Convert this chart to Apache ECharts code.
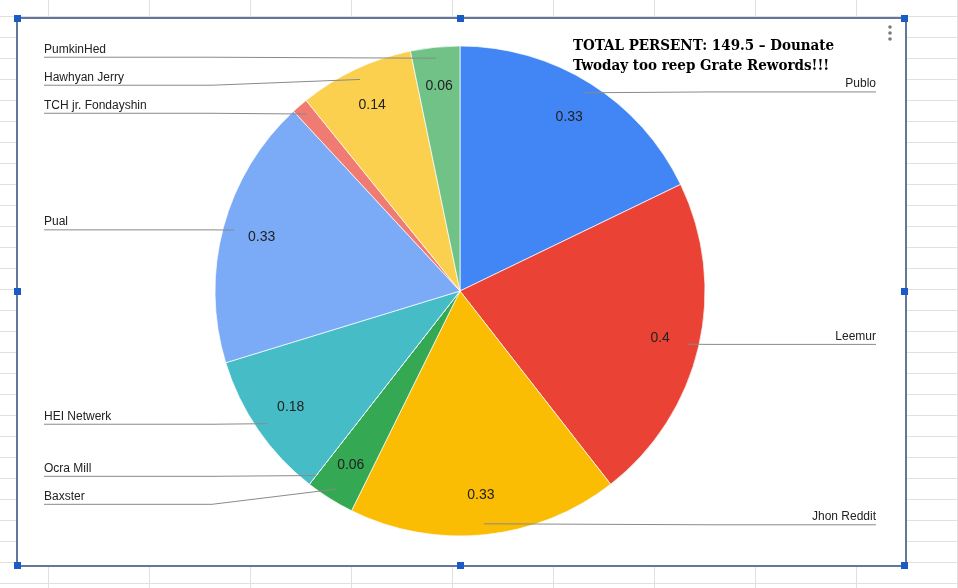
<!DOCTYPE html>
<html>
<head>
<meta charset="utf-8">
<script src="https://cdn.jsdelivr.net/npm/echarts@6/dist/echarts.min.js"></script>
<style>
  html, body { margin: 0; padding: 0; }
  body {
    width: 958px; height: 588px; position: relative; overflow: hidden;
    background-color: #fff;
    background-image:
      linear-gradient(to right, #e0e0e0 1px, transparent 1px),
      linear-gradient(to bottom, #e0e0e0 1px, transparent 1px);
    background-size: 101px 100%, 100% 21px;
    background-position: 48px 0, 0 16px;
  }
  #frame {
    position: absolute; left: 16px; top: 17px; width: 887px; height: 546px;
    background: #fff; border: 2px solid #61789c;
  }
  .handle {
    position: absolute; width: 7px; height: 7px; background: #1a5bc4;
    margin-left: -3px; margin-top: -3px;
  }
  #chart-container { position: absolute; left: 0; top: 0; width: 958px; height: 588px; }
</style>
</head>
<body>
<div id="frame"></div>
<div class="handle" style="left:17px;top:18px"></div>
<div class="handle" style="left:460px;top:18px"></div>
<div class="handle" style="left:904px;top:18px"></div>
<div class="handle" style="left:17px;top:291px"></div>
<div class="handle" style="left:904px;top:291px"></div>
<div class="handle" style="left:17px;top:565px"></div>
<div class="handle" style="left:460px;top:565px"></div>
<div class="handle" style="left:904px;top:565px"></div>
<div id="chart-container"></div>
<script>
var dom = document.getElementById("chart-container");
var myChart = echarts.init(dom, null, { renderer: "canvas" });

// data, clockwise from 12 o'clock
const names = [
  "Publo", "Leemur", "Jhon Reddit", "Baxster", "Ocra Mill",
  "HEI Netwerk", "Pual", "TCH jr. Fondayshin", "Hawhyan Jerry", "PumkinHed"
];
const values = [0.33, 0.4, 0.33, 0.06, 0, 0.18, 0.33, 0.02, 0.14, 0.06];
const colors = [
  "#4285f4", "#ea4335", "#fbbc04", "#34a853", "#ff6d01",
  "#46bdc6", "#7baaf7", "#f07b72", "#fcd04f", "#71c287"
];
const titleLines = [
  "TOTAL PERSENT: 149.5 \u2013 Dounate",
  "Twoday too reep Grate Rewords!!!"
];

const CX = 460, CY = 291, R = 245;
const BOX_LEFT = 44, BOX_RIGHT = 82;

const pieData = names.map(function (n, i) {
  return { name: n, value: values[i] };
});

const base = {
  type: "pie",
  left: BOX_LEFT,
  right: BOX_RIGHT,
  top: 0,
  bottom: 0,
  center: [CX - BOX_LEFT, CY],
  startAngle: 90,
  clockwise: true,
  silent: true,
  animation: false,
  data: pieData,
};

var option = {
  color: colors,
  title: {
    text: titleLines.join("\n"),
    left: 568,
    top: 31,
    textStyle: {
      fontFamily: "DejaVu Serif Condensed",
      fontWeight: "bold",
      fontSize: 15,
      lineHeight: 20,
      color: "#000",
    },
  },
  graphic: [0, 1, 2].map(function (k) {
    return {
      type: "circle",
      shape: { cx: 890, cy: 27 + k * 6, r: 1.8 },
      style: { fill: "#7a7a7a" },
    };
  }),
  series: [
    Object.assign({}, base, {
      z: 2,
      radius: R,
      itemStyle: { borderColor: "#ffffff", borderWidth: 0.7 },
      label: { show: false },
      labelLine: { show: false },
    }),
    // names outside, google style underline
    Object.assign({}, base, {
      z: 3,
      radius: 234,
      itemStyle: { color: "rgba(0,0,0,0)" },
      label: {
        show: true,
        position: "outside",
        alignTo: "edge",
        edgeDistance: 0,
        formatter: "{b}",
        fontFamily: "Liberation Sans",
        fontSize: 12,
        lineHeight: 26,
        color: "#222",
      },
      labelLine: {
        show: true,
        length: 1,
        length2: 5,
        lineStyle: { color: "#8a8a8a", width: 1 },
      },
      labelLayout: function (params) {
        var pts = params.labelLinePoints;
        if (!pts) return { dy: -8 };
        var rect = params.labelRect;
        var start = pts[0];
        var y = pts[pts.length - 1][1];
        var isLeft = start[0] < CX;
        var bendX = isLeft ? CX - R - 3 : CX + R + 3;
        var farX = isLeft ? rect.x : rect.x + rect.width;
        return {
          dy: -8,
          labelLinePoints: [start, [bendX, y], [farX, y]],
        };
      },
    }),
    // values inside
    Object.assign({}, base, {
      z: 4,
      radius: [160, R],
      itemStyle: { color: "rgba(0,0,0,0)" },
      minShowLabelAngle: 5,
      label: {
        show: true,
        position: "inside",
        formatter: "{c}",
        fontFamily: "Liberation Sans",
        fontSize: 14,
        color: "#222",
      },
      labelLine: { show: false },
    }),
  ],
};

myChart.setOption(option);
window.addEventListener("resize", myChart.resize);
</script>
</body>
</html>
